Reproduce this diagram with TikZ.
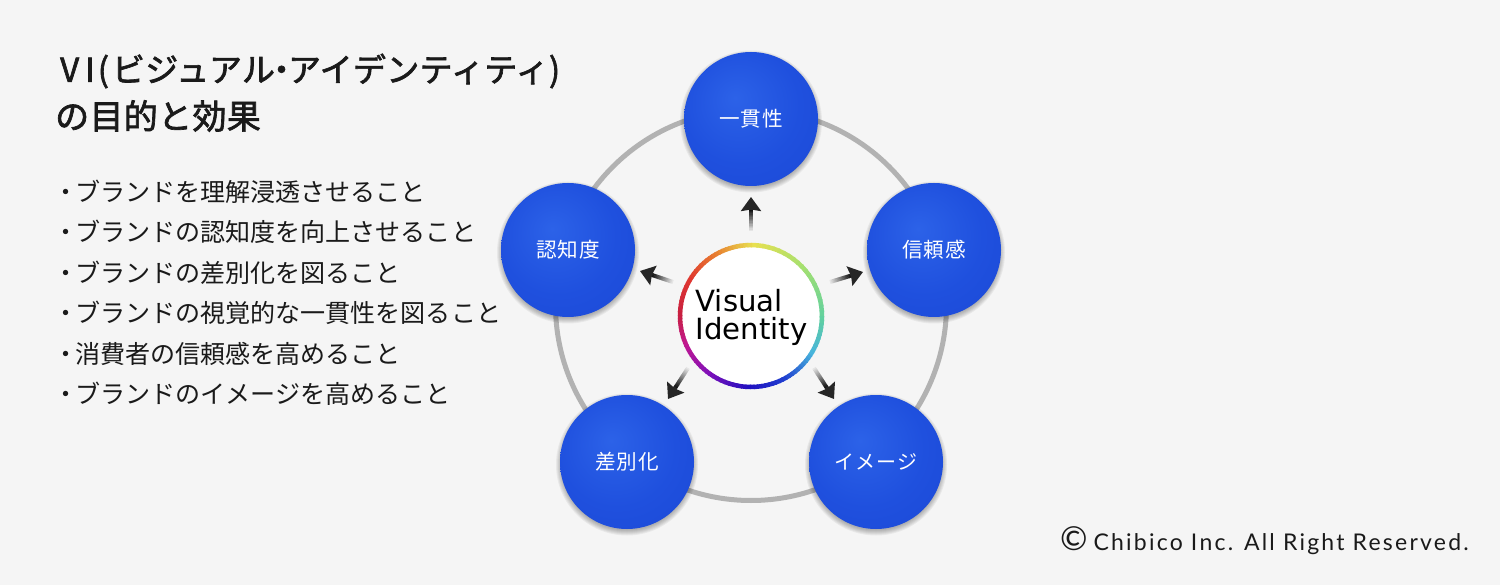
\documentclass[tikz,border=0pt]{standalone}
\usepackage{fontspec}
\usetikzlibrary{calc,arrows.meta}
\newfontfamily\jpfont{Noto Sans CJK JP}
\newfontfamily\jptitle[FakeBold=2,LetterSpace=1]{Noto Sans CJK JP}
\newfontfamily\jpball[LetterSpace=5]{Noto Sans CJK JP}
\newfontfamily\vifont{DejaVu Sans}
\newfontfamily\crfont[LetterSpace=9.7]{Lato}
\definecolor{bgc}{HTML}{F5F5F5}
\definecolor{ringc}{HTML}{B2B2B2}
\definecolor{txt}{HTML}{1A1A1A}
\definecolor{ba}{HTML}{2C62E8}
\definecolor{bb}{HTML}{1F50DE}
\definecolor{bc}{HTML}{1C48D6}
\definecolor{bd}{HTML}{1638B4}
\definecolor{be}{HTML}{102C90}
\pgfdeclareradialshading{ballshade}{\pgfpoint{-6bp}{8bp}}{
  color(0bp)=(ba);
  color(22bp)=(bb);
  color(42bp)=(bc);
  color(53bp)=(bd);
  color(60bp)=(be)}
\definecolor{r0}{HTML}{E8E050}
\definecolor{r1}{HTML}{A4E070}
\definecolor{r2}{HTML}{60D0A0}
\definecolor{r3}{HTML}{48B4DC}
\definecolor{r4}{HTML}{2040D0}
\definecolor{r5}{HTML}{2010C0}
\definecolor{r6}{HTML}{8010B8}
\definecolor{r7}{HTML}{C01890}
\definecolor{r8}{HTML}{C82040}
\definecolor{r9}{HTML}{E03830}
\definecolor{r10}{HTML}{E88030}
\tikzset{
  ball/.style={circle,minimum size=134pt,inner sep=0pt,shading=ballshade,text=white,font=\fontsize{20.6}{24}\selectfont\jpball},
  bulletline/.style={anchor=west,inner sep=0pt,text=txt,font=\fontsize{25.05}{28}\selectfont\jpfont},
  titleline/.style={anchor=west,inner sep=0pt,text=txt,font=\fontsize{33}{36}\selectfont\jptitle},
}
\newcommand{\ballshadow}[1]{%
  \foreach \r in {66,67,68,69,70,71}
    \fill[black,opacity=0.05] ($(#1)+(0,2.5)$) circle (\r pt);}
\newcommand{\gradarrow}[2]{%
  \foreach \i in {0,...,15}{
    \pgfmathsetmacro{\pct}{10+\i*5.6}
    \draw[line width=4pt,black!\pct] ($(#1)!{\i/25}!(#2)$) -- ($(#1)!{(\i+1.2)/25}!(#2)$);
  }
  \draw[line width=4pt,black!85,-{Stealth[length=14pt,width=20pt,inset=1.5pt]}] ($(#1)!0.62!(#2)$) -- (#2);}
\newcommand{\dt}{\hspace{-3pt}}
\begin{document}
\begin{tikzpicture}[x=1pt,y=-1pt]
\useasboundingbox (0,0) rectangle (1500,585);
\fill[bgc] (0,0) rectangle (1500,585);

% title and list
\node[titleline] (t1) at (60,71) {V\hspace{6pt}I\hspace{3pt}(\hspace{3pt}ビジュアル\hspace{-10pt}・\hspace{-10pt}アイデンティティ)};
\node[titleline,font=\fontsize{34}{36}\selectfont\jptitle] (t2) at (55,116) {の目的と効果};
\node[bulletline] (l1) at (53,192) {・\dt ブランドを理解浸透させること};
\node[bulletline] (l2) at (53,232) {・\dt ブランドの認知度を向上させること};
\node[bulletline] (l3) at (53,273) {・\dt ブランドの差別化を図ること};
\node[bulletline] (l4) at (53,313) {・\dt ブランドの視覚的な一貫性を図ること};
\node[bulletline] (l5) at (53,354) {・\dt 消費者の信頼感を高めること};
\node[bulletline] (l6) at (53,394) {・\dt ブランドのイメージを高めること};

% ring
\node[circle,draw=ringc,line width=5pt,minimum size=391pt,inner sep=0pt] (ring) at (751,305) {};

% positions
\coordinate (ca) at (751,119);
\coordinate (cb) at (934,250);
\coordinate (cc) at (876,462);
\coordinate (cd) at (627,462);
\coordinate (ce) at (568,250);
\ballshadow{ca}\ballshadow{cb}\ballshadow{cc}\ballshadow{cd}\ballshadow{ce}
\node[ball] (a) at (ca) {一貫性};
\node[ball] (b) at (cb) {信頼感};
\node[ball,font=\fontsize{20}{24}\selectfont\jpball] (c) at (cc) {イメージ};
\node[ball] (d) at (cd) {差別化};
\node[ball] (e) at (ce) {認知度};

% centre
\node[circle,fill=white,minimum size=144pt,inner sep=0pt,align=left,text=black,
      font=\fontsize{29.2}{29}\selectfont\vifont] (vi) at (751.5,317.5) {Visual\\[-0.5pt]Identity};
\coordinate (vc) at (751,316);
\foreach \st/\sp/\ca/\cb in {0/45/r0/r1,45/90/r1/r2,90/120/r2/r3,120/150/r3/r4,150/180/r4/r5,180/215/r5/r6,215/245/r6/r7,245/270/r7/r8,270/300/r8/r9,300/330/r9/r10,330/360/r10/r0}{
  \foreach \f in {0,0.1,...,0.95}{
    \pgfmathsetmacro{\aa}{90-(\st+\f*(\sp-\st))}
    \pgfmathsetmacro{\ab}{\aa-0.13*(\sp-\st)}
    \pgfmathsetmacro{\pp}{100*(1-\f)}
    \draw[line width=4.5pt,color=\ca!\pp!\cb] ($(vc)+(\aa:71pt)$) -- ($(vc)+(\ab:71pt)$);
  }
}

% arrows
\coordinate (s1) at (751,231); \coordinate (e1) at (751,197);
\coordinate (s2) at (830,282); \coordinate (e2) at (863,272);
\coordinate (s3) at (814,368); \coordinate (e3) at (834,399);
\coordinate (s4) at (688,368); \coordinate (e4) at (668,399);
\coordinate (s5) at (673,282); \coordinate (e5) at (640,271);
\gradarrow{s1}{e1}
\gradarrow{s2}{e2}
\gradarrow{s3}{e3}
\gradarrow{s4}{e4}
\gradarrow{s5}{e5}

% copyright
\node[anchor=east,inner sep=0pt,text=txt,font=\fontsize{23}{26}\selectfont\crfont] (cr) at (1469,541) {\fontsize{33}{26}\selectfont ©\fontsize{23}{26}\selectfont\hspace{6pt}Chibico Inc. All Right Reserved.};
\end{tikzpicture}
\end{document}
